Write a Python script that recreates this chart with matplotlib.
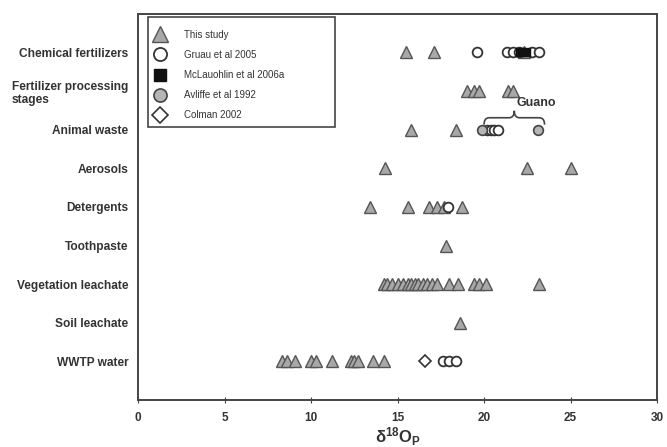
import numpy as np
import matplotlib
matplotlib.use("Agg")
import matplotlib.pyplot as plt
from matplotlib.path import Path
from matplotlib.patches import PathPatch, Rectangle
from matplotlib.transforms import ScaledTranslation

plt.rcParams["font.family"] = ["Liberation Sans", "DejaVu Sans"]
plt.rcParams["mathtext.fontset"] = "custom"
plt.rcParams["mathtext.bf"] = "Liberation Sans:bold"
plt.rcParams["mathtext.rm"] = "Liberation Sans"

categories = ["Chemical fertilizers", "Fertilizer processing\nstages", "Animal waste",
              "Aerosols", "Detergents", "Toothpaste", "Vegetation leachate",
              "Soil leachate", "WWTP water"]

# delta18O_P values per category (row 1..9 from top)
this_study = {
    1: [15.5, 17.1, 22.3],
    2: [19.0, 19.4, 19.7, 21.4, 21.7],
    3: [15.8, 18.4],
    4: [14.3, 22.5, 25.0],
    5: [13.4, 15.6, 16.8, 17.3, 17.7, 18.7],
    6: [17.8],
    7: [14.2, 14.4, 14.7, 15.0, 15.3, 15.6, 15.8, 16.0, 16.2, 16.5, 16.7, 17.0, 17.3,
        18.0, 18.5, 19.4, 19.7, 20.1, 23.2],
    8: [18.6],
    9: [8.3, 8.6, 9.1, 10.0, 10.3, 11.2, 12.3, 12.5, 12.7, 13.6, 14.2],
}
gruau = {
    1: [19.6, 21.3, 21.7, 22.0, 22.8, 23.2],
    3: [20.2, 20.4, 20.6, 20.8],
    5: [17.9],
    9: [17.6, 18.0, 18.4],
}
mclaughlin = {1: [22.1, 22.4]}
ayliffe = {3: [19.9, 23.1]}
colman = {9: [16.6]}

txt = "#333333"
fig = plt.figure(figsize=(6.67, 4.47), dpi=100)
ax = fig.add_axes([0.207, 0.105, 0.778, 0.864])

def draw(d, label, **kw):
    first = True
    for row, vals in d.items():
        ax.plot(vals, [row] * len(vals), linestyle="none",
                label=label if first else None, **kw)
        first = False

draw(this_study, "This study", marker="^", ms=9, mfc="#a8a8a8", mec="#555555", mew=1)
draw(gruau, "Gruau et al 2005", marker="o", ms=7, mfc="white", mec="#333333", mew=1.3)
draw(mclaughlin, "McLauohlin et al 2006a", marker="s", ms=6, mfc="#111111", mec="#111111", mew=1)
draw(ayliffe, "Avliffe et al 1992", marker="o", ms=7, mfc="#b5b5b5", mec="#444444", mew=1.2)
draw(colman, "Colman 2002", marker="D", ms=6, mfc="white", mec="#333333", mew=1.2)

# Guano brace
x0, x1, xm = 20.0, 23.5, 21.75
yt, yh, yp = 2.87, 2.69, 2.51
verts = [(x0, yt), (x0, yh), (x0 + .3, yh), (xm - .3, yh), (xm, yh), (xm, yp),
         (xm, yh), (xm + .3, yh), (x1 - .3, yh), (x1, yh), (x1, yt)]
codes = [Path.MOVETO, Path.CURVE3, Path.CURVE3, Path.LINETO, Path.CURVE3, Path.CURVE3,
         Path.CURVE3, Path.CURVE3, Path.LINETO, Path.CURVE3, Path.CURVE3]
ax.add_patch(PathPatch(Path(verts, codes), fill=False, ec="#444444", lw=1.2))
ax.text(21.85, 2.3, "Guano", ha="left", va="center", fontsize=9,
        fontweight="bold", color=txt)

ax.set_xlim(0, 30)
ax.set_ylim(10, 0)
ax.set_xticks(np.arange(0, 31, 5))
ax.set_yticks(range(1, 10))
ax.set_yticklabels(categories)
for lab in ax.get_yticklabels():
    lab.set_fontweight("bold")
    lab.set_color(txt)
    lab.set_fontsize(8.6)
    lab.set_multialignment("left")
    lab.set_transform(lab.get_transform() + ScaledTranslation(0, 0.04, fig.dpi_scale_trans))
for lab in ax.get_xticklabels():
    lab.set_fontweight("bold")
    lab.set_color(txt)
ax.tick_params(axis="y", length=0, pad=7)
ax.tick_params(axis="x", direction="inout", length=5, labelsize=8.5, color="#444444", pad=6)
for s in ax.spines.values():
    s.set_color("#444444")
    s.set_linewidth(1.4)

ax.set_xlabel(r"$\mathbf{\delta^{18}O_P}$", fontsize=12, color=txt, labelpad=1)

# legend box drawn separately (it is wider than its text)
ax.add_patch(Rectangle((0.019, 0.707), 0.361, 0.285, transform=ax.transAxes,
                       fill=True, fc="white", ec="#444444", lw=1.2, zorder=4))
leg = ax.legend(loc="upper left", bbox_to_anchor=(0.022, 0.967), borderaxespad=0,
                fontsize=7, labelspacing=1.05, handletextpad=1.6, markerscale=1.35,
                frameon=False, borderpad=0.3, handlelength=1.6)
leg.set_zorder(5)
for t in leg.get_texts():
    t.set_color(txt)

fig.savefig("out.png", dpi=100)
